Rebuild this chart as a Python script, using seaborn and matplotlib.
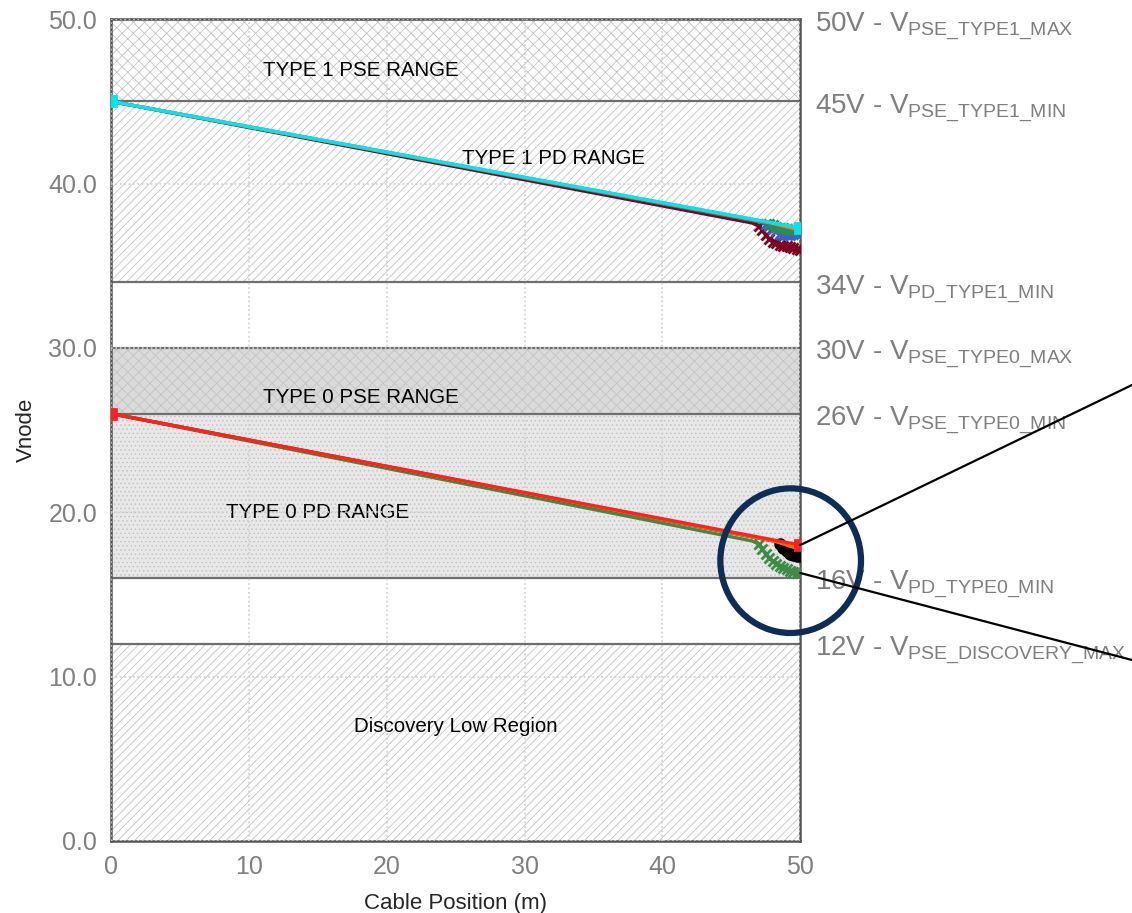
import pandas as pd
import seaborn as sns
import matplotlib.pyplot as plt
from matplotlib.patches import Ellipse

# posicoes no cabo (m)
posicao = [0, 46.5, 47.0, 47.25, 47.5, 47.75, 48.0, 48.25, 48.5, 48.75, 49.0, 49.25, 49.5, 49.75, 50.0]

# grupo type 1 (parte de 45V)
t1_ciano = [45.0, 37.84, 37.76, 37.72, 37.69, 37.65, 37.61, 37.57, 37.53, 37.49, 37.45, 37.42, 37.38, 37.34, 37.3]
t1_vinho = [45.0, 37.6, 37.4, 37.15, 36.85, 36.6, 36.45, 36.35, 36.28, 36.22, 36.17, 36.12, 36.07, 36.02, 35.95]
t1_azul = [45.0, 37.75, 37.66, 37.6, 37.52, 37.4, 37.25, 37.1, 36.95, 36.88, 36.85, 36.85, 36.9, 36.95, 37.0]
t1_verde = [45.0, 37.78, 37.7, 37.65, 37.6, 37.52, 37.45, 37.38, 37.32, 37.27, 37.22, 37.2, 37.18, 37.18, 37.2]
t1_laranja = [45.0, 37.82, 37.74, 37.7, 37.66, 37.62, 37.57, 37.52, 37.47, 37.42, 37.37, 37.32, 37.27, 37.22, 37.18]

# grupo type 0 (parte de 26V)
t0_vermelho = [26.0, 18.56, 18.48, 18.44, 18.4, 18.36, 18.32, 18.28, 18.24, 18.2, 18.16, 18.12, 18.08, 18.04, 18.0]
t0_laranja = [26.0, 18.5, 18.42, 18.38, 18.34, 18.3, 18.25, 18.2, 18.14, 18.08, 18.0, 17.93, 17.87, 17.82, 17.78]
t0_preto = [26.0, 18.5, 18.42, 18.38, 18.34, 18.3, 18.26, 18.18, 18.05, 17.85, 17.62, 17.48, 17.4, 17.36, 17.35]
t0_verde = [26.0, 18.25, 18.05, 17.75, 17.45, 17.2, 17.0, 16.85, 16.72, 16.62, 16.53, 16.45, 16.38, 16.32, 16.27]

# faixas de tensao
faixas = [(45, 50), (34, 45), (26, 30), (16, 26), (0, 12)]
faixa_cor = ["white", "white", "#dadada", "#e8e8e8", "white"]
faixa_hatch = ["xxx", "////", "xxx", "....", "////"]
faixa_texto = ["TYPE 1 PSE RANGE", "TYPE 1 PD RANGE", "TYPE 0 PSE RANGE", "TYPE 0 PD RANGE", "Discovery Low Region"]
texto_pos = [(18.1, 46.9), (32.1, 41.5), (18.1, 27.0), (15.0, 20.0), (25.0, 6.95)]

limites = [50, 45, 34, 30, 26, 16, 12]
limites_nome = ["PSE_TYPE1_MAX", "PSE_TYPE1_MIN", "PD_TYPE1_MIN", "PSE_TYPE0_MAX",
                "PSE_TYPE0_MIN", "PD_TYPE0_MIN", "PSE_DISCOVERY_MAX"]

sns.set_style("white")
plt.rcParams["font.family"] = ["Liberation Sans", "DejaVu Sans"]
plt.rcParams["mathtext.default"] = "regular"
plt.rcParams["mathtext.fontset"] = "custom"
plt.rcParams["mathtext.rm"] = "Liberation Sans"
plt.rcParams["hatch.linewidth"] = 0.6

fig = plt.figure(figsize=(11.32, 9.13), dpi=100)
ax = fig.add_axes([0.098, 0.079, 0.609, 0.900])

for (lo, hi), cor, h in zip(faixas, faixa_cor, faixa_hatch):
    ax.axhspan(lo, hi, facecolor=cor, edgecolor="#c4c4c4", hatch=h, linewidth=0, zorder=0)
for v in limites:
    ax.axhline(v, color="#6e6e6e", lw=1.6, zorder=1)

for t, (tx, ty) in zip(faixa_texto, texto_pos):
    ax.text(tx, ty, t, ha="center", va="center", fontsize=14.8, color="black", zorder=2)

ax.grid(True, color="#d0d0d0", linestyle=":", lw=1.2)
ax.set_axisbelow(False)

series = [
    (t1_vinho, "#800020", "x", slice(2, None)),
    (t1_azul, "#3a5fcd", "x", slice(4, None)),
    (t1_verde, "#2e8b57", "x", slice(5, None)),
    (t1_laranja, "#ff7f0e", None, None),
    (t1_ciano, "#00e5ee", "s", [0, -1]),
    (t0_verde, "#3c8c46", "x", slice(2, None)),
    (t0_preto, "black", "o", slice(8, None)),
    (t0_laranja, "#ff6a00", None, None),
    (t0_vermelho, "#ff2020", "s", [0, -1]),
]
for valores, cor, mk, cada in series:
    df = pd.DataFrame({"pos": posicao, "vnode": valores})
    if mk:
        sns.lineplot(data=df, x="pos", y="vnode", color=cor, lw=2.4, marker=mk,
                     markevery=cada, markersize=7, mew=2, mec=cor, ax=ax, zorder=3)
    else:
        sns.lineplot(data=df, x="pos", y="vnode", color=cor, lw=2.4, ax=ax, zorder=3)

ax.set_xlim(0, 50)
ax.set_ylim(0, 50)
ax.set_xticks([0, 10, 20, 30, 40, 50])
ax.set_yticks([0, 10, 20, 30, 40, 50])
ax.set_yticklabels([f"{v:.1f}" for v in [0, 10, 20, 30, 40, 50]])
ax.tick_params(labelsize=18, labelcolor="#808080", length=0, pad=10)
ax.set_xlabel("Cable Position (m)", fontsize=16, labelpad=10)
ax.set_ylabel("Vnode", fontsize=16, labelpad=8)
for s in ax.spines.values():
    s.set_color("#555555")
    s.set_linewidth(1.8)

for v, nome in zip(limites, limites_nome):
    ax.text(51.1, v - 0.4, f"{v}V - V$_{{{nome.replace('_', chr(92) + '_')}}}$",
            fontsize=20, color="#7f7f7f", va="center", ha="left", clip_on=False)

# destaque da regiao final
circulo = Ellipse((49.3, 17.05), 10.2, 8.8, fill=False, edgecolor="#0d2d57", lw=4.5,
                  clip_on=False, zorder=5)
ax.add_patch(circulo)
ax.annotate("", xy=(1.0, 1 - 385 / 913), xycoords="figure fraction", xytext=(50.0, 18.0),
            textcoords="data", arrowprops=dict(arrowstyle="-", color="black", lw=1.6,
                                               shrinkA=0, shrinkB=0), zorder=5)
ax.annotate("", xy=(1.0, 1 - 660 / 913), xycoords="figure fraction", xytext=(50.0, 16.3),
            textcoords="data", arrowprops=dict(arrowstyle="-", color="black", lw=1.6,
                                               shrinkA=0, shrinkB=0), zorder=5)

plt.savefig("out.png", dpi=100)
